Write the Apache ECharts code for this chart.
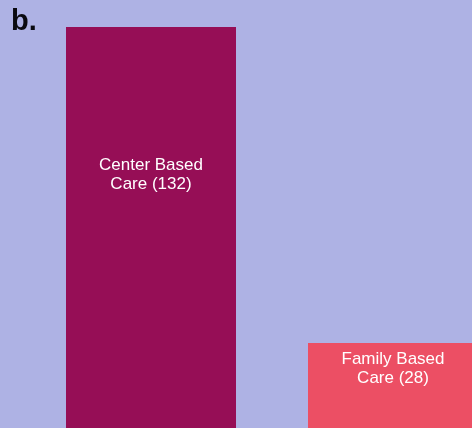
<!DOCTYPE html>
<html><head><meta charset="utf-8">
<script src="https://cdn.jsdelivr.net/npm/echarts@6/dist/echarts.min.js"></script>
<style>html,body{margin:0;padding:0;background:#aeb2e4;}#c{width:472px;height:428px;}</style>
</head><body><div id="c"></div>
<script>
const categories = ['Center Based Care', 'Family Based Care'];
const values = [132, 28];
const labels = ['Center Based\nCare (132)', 'Family Based\nCare (28)'];
const colors = ['#960e56', '#ec4f64'];
const labelDist = [129, 7];

const chart = echarts.init(document.getElementById('c'));
chart.setOption({
  backgroundColor: '#aeb2e4',
  animation: false,
  grid: {left: 30, top: 27, width: 484, height: 401, outerBoundsMode: 'none', containLabel: false},
  xAxis: {type: 'category', data: categories, show: false},
  yAxis: {type: 'value', min: 0, max: 132, show: false},
  graphic: [{type: 'text', left: 11, top: 7, style: {text: 'b.', font: 'bold 29px "Liberation Sans", Arial, sans-serif', fill: '#0a0a10'}}],
  series: [{
    type: 'bar',
    barWidth: 170,
    data: values.map((v, i) => ({
      value: v,
      itemStyle: {color: colors[i]},
      label: {
        show: true, position: 'insideTop', distance: labelDist[i],
        formatter: labels[i], color: '#ffffff', fontSize: 17, lineHeight: 19,
        fontFamily: '"Liberation Sans", Arial, sans-serif', align: 'center'
      }
    }))
  }]
});
</script></body></html>
